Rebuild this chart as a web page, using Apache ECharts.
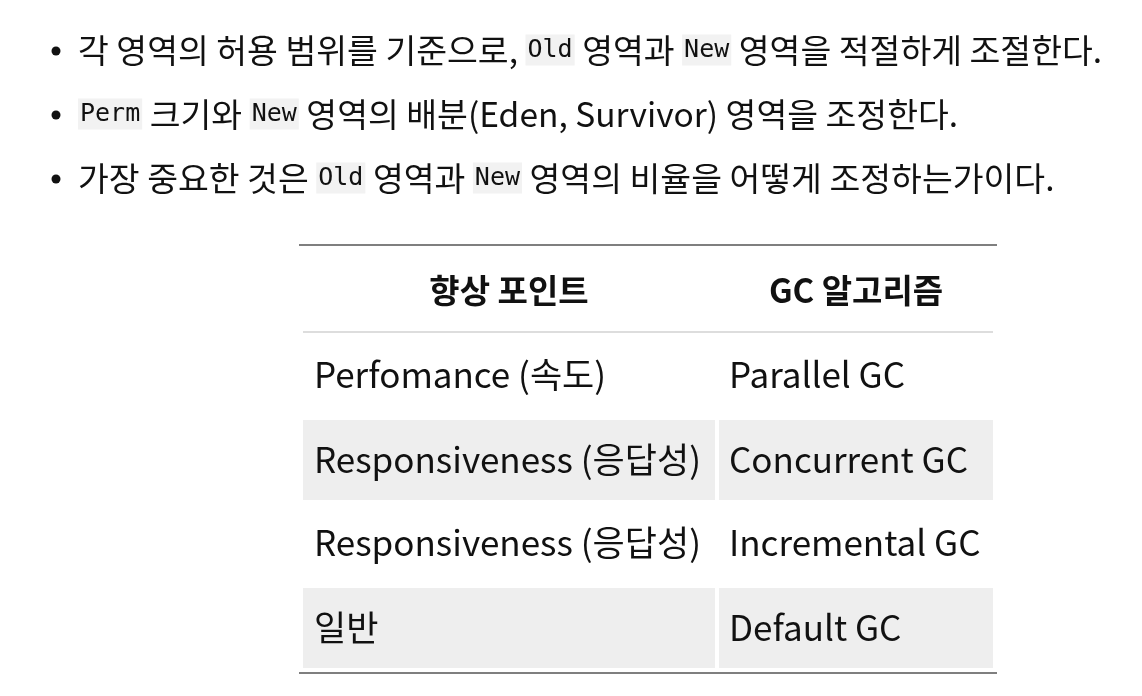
<!DOCTYPE html>
<html>
<head>
<meta charset="utf-8">
<title>GC</title>
<style>html,body{margin:0;padding:0;background:#fff;}</style>
</head>
<body>
<div id="main" style="width:1142px;height:696px;"></div>
<script src="https://cdn.jsdelivr.net/npm/echarts@6/dist/echarts.min.js"></script>
<script>
// bullet lines, {c|...} marks inline code
var bullets = [
  '각 영역의 허용 범위를 기준으로, {c|Old} 영역과 {c|New} 영역을 적절하게 조절한다.',
  '{c|Perm} 크기와 {c|New} 영역의 배분(Eden, Survivor) 영역을 조정한다.',
  '가장 중요한 것은 {c|Old} 영역과 {c|New} 영역의 비율을 어떻게 조정하는가이다.'
];
var headers = ['향상 포인트', 'GC 알고리즘'];
var points = ['Perfomance (속도)', 'Responsiveness (응답성)', 'Responsiveness (응답성)', '일반'];
var algorithms = ['Parallel GC', 'Concurrent GC', 'Incremental GC', 'Default GC'];

var font = '"Noto Sans CJK KR", "Noto Sans", sans-serif';
var myChart = echarts.init(document.getElementById('main'));
var g = [];

var bulletY = [50, 114, 178];
for (var i = 0; i < bullets.length; i++) {
  g.push({type: 'circle', shape: {cx: 56, cy: bulletY[i] + 1, r: 4.5}, style: {fill: '#111'}});
  g.push({type: 'text', x: 78, y: bulletY[i], style: {
    text: bullets[i], fill: '#111', font: '33.5px ' + font, verticalAlign: 'middle',
    rich: {c: {fontFamily: '"DejaVu Sans Mono", monospace', fontSize: 25, backgroundColor: '#f2f2f2', padding: [3, 2, 3, 2], fill: '#111'}}
  }});
}

var col1 = [303, 715], col2 = [719, 993];
// header
g.push({type: 'line', shape: {x1: 299, y1: 245, x2: 997, y2: 245}, style: {stroke: '#555', lineWidth: 1.5}});
g.push({type: 'line', shape: {x1: 303, y1: 332, x2: 993, y2: 332}, style: {stroke: '#ddd', lineWidth: 2}});
g.push({type: 'text', x: (col1[0] + col1[1]) / 2, y: 290, style: {text: headers[0], font: 'bold 33px ' + font, fill: '#111', align: 'center', verticalAlign: 'middle'}});
g.push({type: 'text', x: (col2[0] + col2[1]) / 2, y: 290, style: {text: headers[1], font: 'bold 33px ' + font, fill: '#111', align: 'center', verticalAlign: 'middle'}});

var rowTop = [334, 420, 502, 588], rowH = [82, 80, 82, 80];
for (var r = 0; r < points.length; r++) {
  var fill = r % 2 ? '#eeeeee' : '#ffffff';
  g.push({type: 'rect', shape: {x: col1[0], y: rowTop[r], width: col1[1] - col1[0], height: rowH[r]}, style: {fill: fill}});
  g.push({type: 'rect', shape: {x: col2[0], y: rowTop[r], width: col2[1] - col2[0], height: rowH[r]}, style: {fill: fill}});
  var cy = rowTop[r] + rowH[r] / 2;
  g.push({type: 'text', x: 314, y: cy, style: {text: points[r], font: '35px ' + font, fill: '#111', verticalAlign: 'middle'}});
  g.push({type: 'text', x: 729, y: cy, style: {text: algorithms[r], font: '35px ' + font, fill: '#111', verticalAlign: 'middle'}});
}
g.push({type: 'line', shape: {x1: 299, y1: 673, x2: 997, y2: 673}, style: {stroke: '#555', lineWidth: 1.5}});

myChart.setOption({animation: false, backgroundColor: '#fff', graphic: {elements: g}});
</script>
</body>
</html>
